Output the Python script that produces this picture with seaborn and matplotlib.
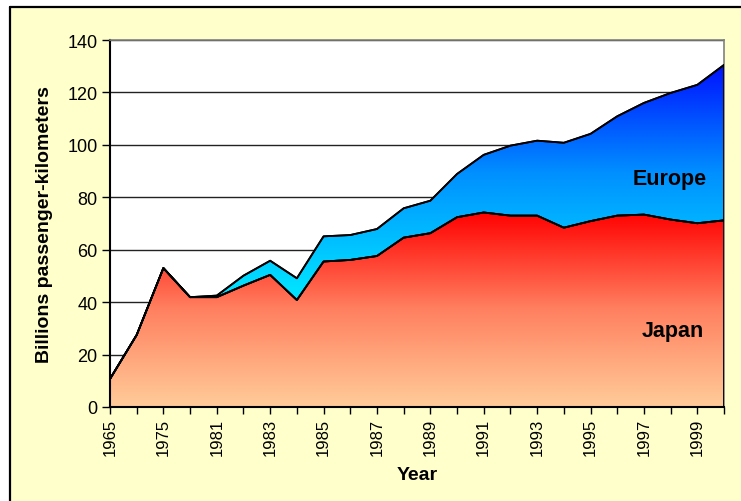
import numpy as np
import pandas as pd
import matplotlib
matplotlib.use('Agg')
import matplotlib.pyplot as plt
import seaborn as sns
from matplotlib.colors import LinearSegmentedColormap
from matplotlib.patches import Rectangle
from matplotlib.lines import Line2D

# Данные
years = [1965, 1970, 1975, 1980, 1981, 1982, 1983, 1984, 1985, 1986, 1987, 1988,
         1989, 1990, 1991, 1992, 1993, 1994, 1995, 1996, 1997, 1998, 1999, 2000]
japan = [10.7, 27.5, 53.0, 41.9, 41.9, 46.3, 50.4, 40.8, 55.5, 56.1, 57.6, 64.6,
         66.3, 72.4, 74.2, 73.0, 73.0, 68.4, 70.9, 73.0, 73.4, 71.5, 70.1, 71.2]
europe = [0.0, 0.0, 0.0, 0.0, 0.6, 3.8, 5.4, 8.3, 9.6, 9.5, 10.3, 11.2,
          12.4, 16.5, 22.0, 26.7, 28.6, 32.4, 33.3, 37.9, 42.6, 48.3, 52.8, 59.3]
tick_labels = [str(y) if i % 2 == 0 else '' for i, y in enumerate(years)]

df = pd.DataFrame({'year': years, 'japan': japan, 'europe': europe})
df['idx'] = np.arange(len(df))
df['total'] = df['japan'] + df['europe']

sns.set_style('white')
plt.rcParams['font.family'] = ['Liberation Sans', 'DejaVu Sans']
plt.rcParams['text.color'] = 'black'
plt.rcParams['axes.labelcolor'] = 'black'
plt.rcParams['xtick.color'] = 'black'
plt.rcParams['ytick.color'] = 'black'

fig = plt.figure(figsize=(7.41, 5.02), dpi=100, facecolor='white')
W, H = 741, 502
# Жёлтая рамка
fig.add_artist(Rectangle((10 / W, 0), 1, 1 - 8 / H, transform=fig.transFigure,
                         facecolor='#FFFFCC', edgecolor='none', zorder=0))
fig.add_artist(Line2D([10 / W, 10 / W], [0, 1 - 8 / H], transform=fig.transFigure,
                      color='black', lw=1.6))
fig.add_artist(Line2D([10 / W, 1], [1 - 8 / H, 1 - 8 / H], transform=fig.transFigure,
                      color='black', lw=1.6))

ax = fig.add_axes([110 / W, 1 - 408 / H, 614 / W, 367 / H])
ax.set_facecolor('white')

n = len(df) - 1
x = df['idx'].values

# Градиент Японии
cmap_j = LinearSegmentedColormap.from_list('jp', ['#FFCC99', '#FF8060', '#FF0000'])
grad = np.linspace(0, 1, 256).reshape(-1, 1)
poly_j = ax.fill_between(x, 0, df['japan'], facecolor='none', edgecolor='black',
                         lw=1.3, zorder=3)
im_j = ax.imshow(grad, extent=[0, n, 0, 74.5], origin='lower', cmap=cmap_j,
                 aspect='auto', zorder=2)
im_j.set_clip_path(poly_j.get_paths()[0], transform=ax.transData)

# Градиент Европы
cmap_e = LinearSegmentedColormap.from_list(
    'eu', [(0.0, '#00E0FF'), (0.35, '#00E0FF'), (0.68, '#0090FF'), (1.0, '#0010FF')])
poly_e = ax.fill_between(x, df['japan'], df['total'], facecolor='none',
                         edgecolor='black', lw=1.3, zorder=3)
im_e = ax.imshow(grad, extent=[0, n, 0, 131], origin='lower', cmap=cmap_e,
                 aspect='auto', zorder=2)
im_e.set_clip_path(poly_e.get_paths()[0], transform=ax.transData)

sns.lineplot(data=df, x='idx', y='japan', color='black', lw=1.3, ax=ax, zorder=4)
sns.lineplot(data=df, x='idx', y='total', color='black', lw=1.3, ax=ax, zorder=4)

ax.set_xlim(0, n)
ax.set_ylim(0, 140)
ax.set_yticks(range(0, 141, 20))
ax.set_xticks(x)
ax.set_xticklabels(tick_labels, rotation=90, fontsize=12)
ax.tick_params(axis='y', labelsize=13, length=6, width=1, color='black', pad=3, left=True)
ax.tick_params(axis='x', length=5, width=1, color='black', pad=3, bottom=True)
ax.yaxis.grid(True, color='#222222', lw=1)
ax.xaxis.grid(False)
ax.set_axisbelow(True)

for side in ['left', 'bottom']:
    ax.spines[side].set_color('black')
    ax.spines[side].set_linewidth(1.5)
for side in ['top', 'right']:
    ax.spines[side].set_color('#808080')
    ax.spines[side].set_linewidth(1.2)

ax.set_xlabel('Year', fontsize=14, fontweight='bold', va='center')
ax.xaxis.set_label_coords(0.5, -0.185)
ax.set_ylabel('Billions passenger-kilometers', fontsize=14, fontweight='bold', va='center')
ax.yaxis.set_label_coords(-0.106, 0.5)

ax.text(20.97, 87, 'Europe', fontsize=15.5, fontweight='bold', ha='center', va='center', zorder=5)
ax.text(21.1, 29.1, 'Japan', fontsize=15.5, fontweight='bold', ha='center', va='center', zorder=5)

plt.savefig('out.png', dpi=100, facecolor=fig.get_facecolor())
